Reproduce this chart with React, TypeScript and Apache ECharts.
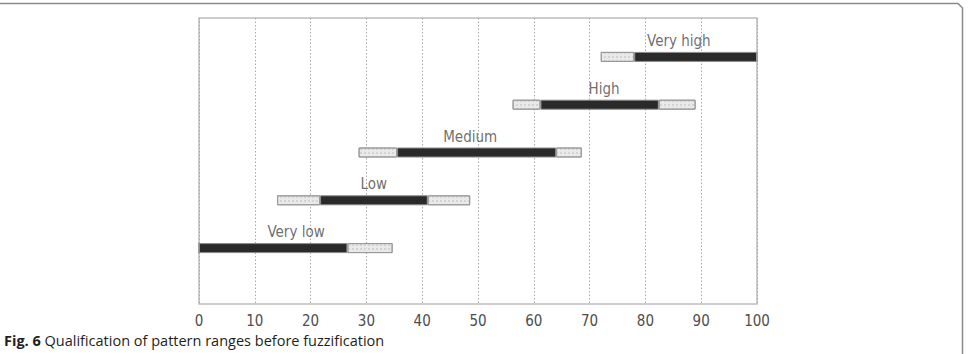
import React, { useEffect, useRef } from "react";
import * as echarts from "echarts";

const categories = ["Very low", "Low", "Medium", "High", "Very high"];
const supportStart = [0, 14, 28.6, 56.2, 72];
const coreStart = [0, 21.7, 35.5, 61.2, 78];
const coreEnd = [26.6, 41, 64, 82.4, 100];
const supportEnd = [34.7, 48.6, 68.6, 89, 100];
const xTicks = [0, 10, 20, 30, 40, 50, 60, 70, 80, 90, 100];
const caption = "Qualification of pattern ranges before fuzzification";
const figLabel = "Fig. 6";

const NARROW = "'Liberation Sans Narrow', 'DejaVu Sans Condensed', Arial, sans-serif";

export default function App() {
  const ref = useRef<HTMLDivElement>(null);
  useEffect(() => {
    if (!ref.current) return;
    const chart = echarts.init(ref.current, undefined, { renderer: "svg" });
    const r1 = (v: number) => Math.round(v * 10) / 10;
    const offset = supportStart;
    const light1 = coreStart.map((v, i) => r1(v - supportStart[i]));
    const dark = coreEnd.map((v, i) => r1(v - coreStart[i]));
    const light2 = supportEnd.map((v, i) => r1(v - coreEnd[i]));
    const centers = categories.map((c, i) => [r1((supportStart[i] + supportEnd[i]) / 2), c]);

    const lightStyle = {
      color: "#e9e9e9",
      borderColor: "#9a9a9a",
      borderWidth: 1,
      decal: {
        symbol: "circle",
        symbolSize: 0.8,
        dashArrayX: 2,
        dashArrayY: 2,
        color: "rgba(170,170,170,0.55)",
      },
    };
    const darkStyle = { color: "#2a2a2a", borderColor: "#8a8a8a", borderWidth: 1 };
    const barCommon = {
      type: "bar",
      stack: "r",
      xAxisIndex: 1,
      yAxisIndex: 1,
      barWidth: 10,
      silent: true,
    };

    chart.setOption({
      animation: false,
      grid: [
        { left: 199, top: 18, width: 558, height: 286, show: true, borderColor: "#bdbdbd", borderWidth: 1.5, backgroundColor: "transparent" },
        { left: 199, top: 33, width: 558, height: 239 },
      ],
      xAxis: [
        {
          gridIndex: 0,
          type: "value",
          min: xTicks[0],
          max: xTicks[xTicks.length - 1],
          interval: 10,
          axisLine: { show: false },
          axisTick: { show: false },
          axisLabel: { fontSize: 15, color: "#4d4d4d", fontFamily: NARROW, margin: 9 },
          splitLine: { show: true, lineStyle: { type: [1.5, 2], color: "#a8a8a8", width: 1 } },
        },
        { gridIndex: 1, type: "value", min: 0, max: 100, show: false, splitLine: { show: false } },
      ],
      yAxis: [
        { gridIndex: 0, type: "value", show: false, splitLine: { show: false } },
        { gridIndex: 1, type: "category", data: categories, show: false },
      ],
      series: [
        { ...barCommon, name: "offset", data: offset, itemStyle: { color: "transparent" } },
        { ...barCommon, name: "support-left", data: light1, itemStyle: lightStyle },
        { ...barCommon, name: "core", data: dark, itemStyle: darkStyle },
        { ...barCommon, name: "support-right", data: light2, itemStyle: lightStyle },
        {
          type: "scatter",
          xAxisIndex: 1,
          yAxisIndex: 1,
          symbolSize: 0,
          silent: true,
          data: centers,
          label: {
            show: true,
            position: "top",
            distance: 7,
            formatter: (p: any) => p.value[1],
            fontSize: 15,
            lineHeight: 18,
            color: "#484848",
            fontFamily: NARROW,
          },
        },
      ],
      graphic: [
        {
          type: "polyline",
          shape: { points: [[0, 3.5], [958, 3.5], [962.5, 8], [962.5, 354]] },
          style: { stroke: "#8a8a8a", lineWidth: 1.5, fill: "none" },
          silent: true,
        },
        {
          type: "text",
          left: 4,
          top: 333,
          style: {
            text: `{b|${figLabel}} ${caption}`,
            font: "14.5px 'Open Sans', sans-serif",
            fill: "#231f20",
            rich: { b: { fontWeight: "bold", fontSize: 14.5, fontFamily: "'Open Sans', sans-serif", fill: "#231f20" } },
          },
          silent: true,
        },
      ],
    });
    return () => chart.dispose();
  }, []);
  return (
    <div
      ref={ref}
      style={{ position: "fixed", left: 0, top: 0, width: 972, height: 354, background: "#fff" }}
    />
  );
}
